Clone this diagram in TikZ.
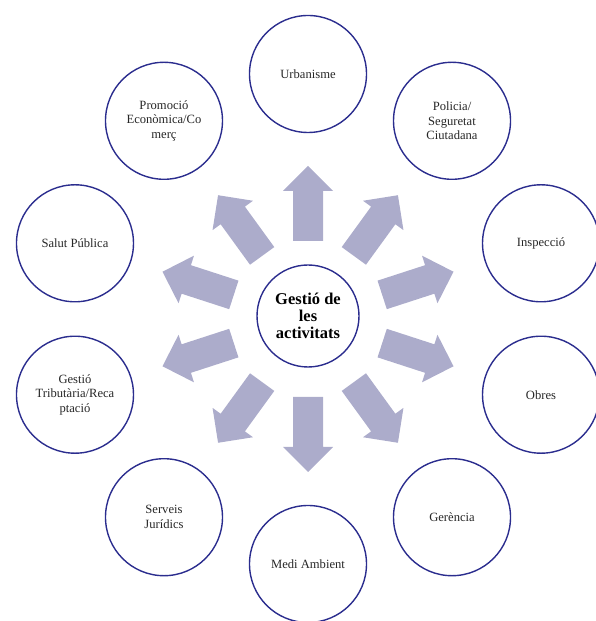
\documentclass[tikz,border=0pt]{standalone}
\usepackage{fontspec}
\setmainfont{Liberation Serif}
\usetikzlibrary{calc}
\definecolor{ringblue}{HTML}{2B2D8E}
\definecolor{arrowfill}{HTML}{ACACCB}
\begin{document}
\begin{tikzpicture}[x=1pt,y=1pt,
  outer/.style={circle,draw=ringblue,line width=1.4pt,minimum size=117pt,inner sep=0pt,align=center,
     font=\fontsize{12.6}{14.7}\selectfont,text=black!85},
  hub/.style={circle,draw=ringblue,line width=1.4pt,minimum size=102pt,inner sep=0pt,align=center,
     font=\fontsize{16.5}{17}\selectfont\bfseries},
  blockarrow/.style={fill=arrowfill,draw=none}]
\useasboundingbox (0,0) rectangle (595,621);
\coordinate (c) at (308,302);
\node[hub] (hub) at (308,305) {Gestió de\\les\\activitats};
\node[outer] (urb) at ($(c)+(90:245)$) {Urbanisme};
\node[outer] (pol) at ($(c)+(54:245)$) {Policia/\\Seguretat\\Ciutadana};
\node[outer] (ins) at ($(c)+(18:245)$) {Inspecció};
\node[outer] (obr) at ($(c)+(-18:245)$) {Obres};
\node[outer] (ger) at ($(c)+(-54:245)$) {Gerència};
\node[outer] (med) at ($(c)+(-90:245)$) {Medi Ambient};
\node[outer] (ser) at ($(c)+(-126:245)$) {Serveis\\Jurídics};
\node[outer] (tri) at ($(c)+(-162:245)$) {Gestió\\Tributària/Reca\\ptació};
\node[outer] (sal) at ($(c)+(162:245)$) {Salut Pública};
\node[outer] (pro) at ($(c)+(126:245)$) {Promoció\\Econòmica/Co\\merç};
\foreach \a in {90,54,18,-18,-54,-90,-126,-162,162,126}{
  \begin{scope}[shift={(c)},rotate=\a]
    \fill[blockarrow] (78,-15) -- (128,-15) -- (128,-25) -- (153,0) -- (128,25) -- (128,15) -- (78,15) -- cycle;
  \end{scope}
}
\end{tikzpicture}
\end{document}
